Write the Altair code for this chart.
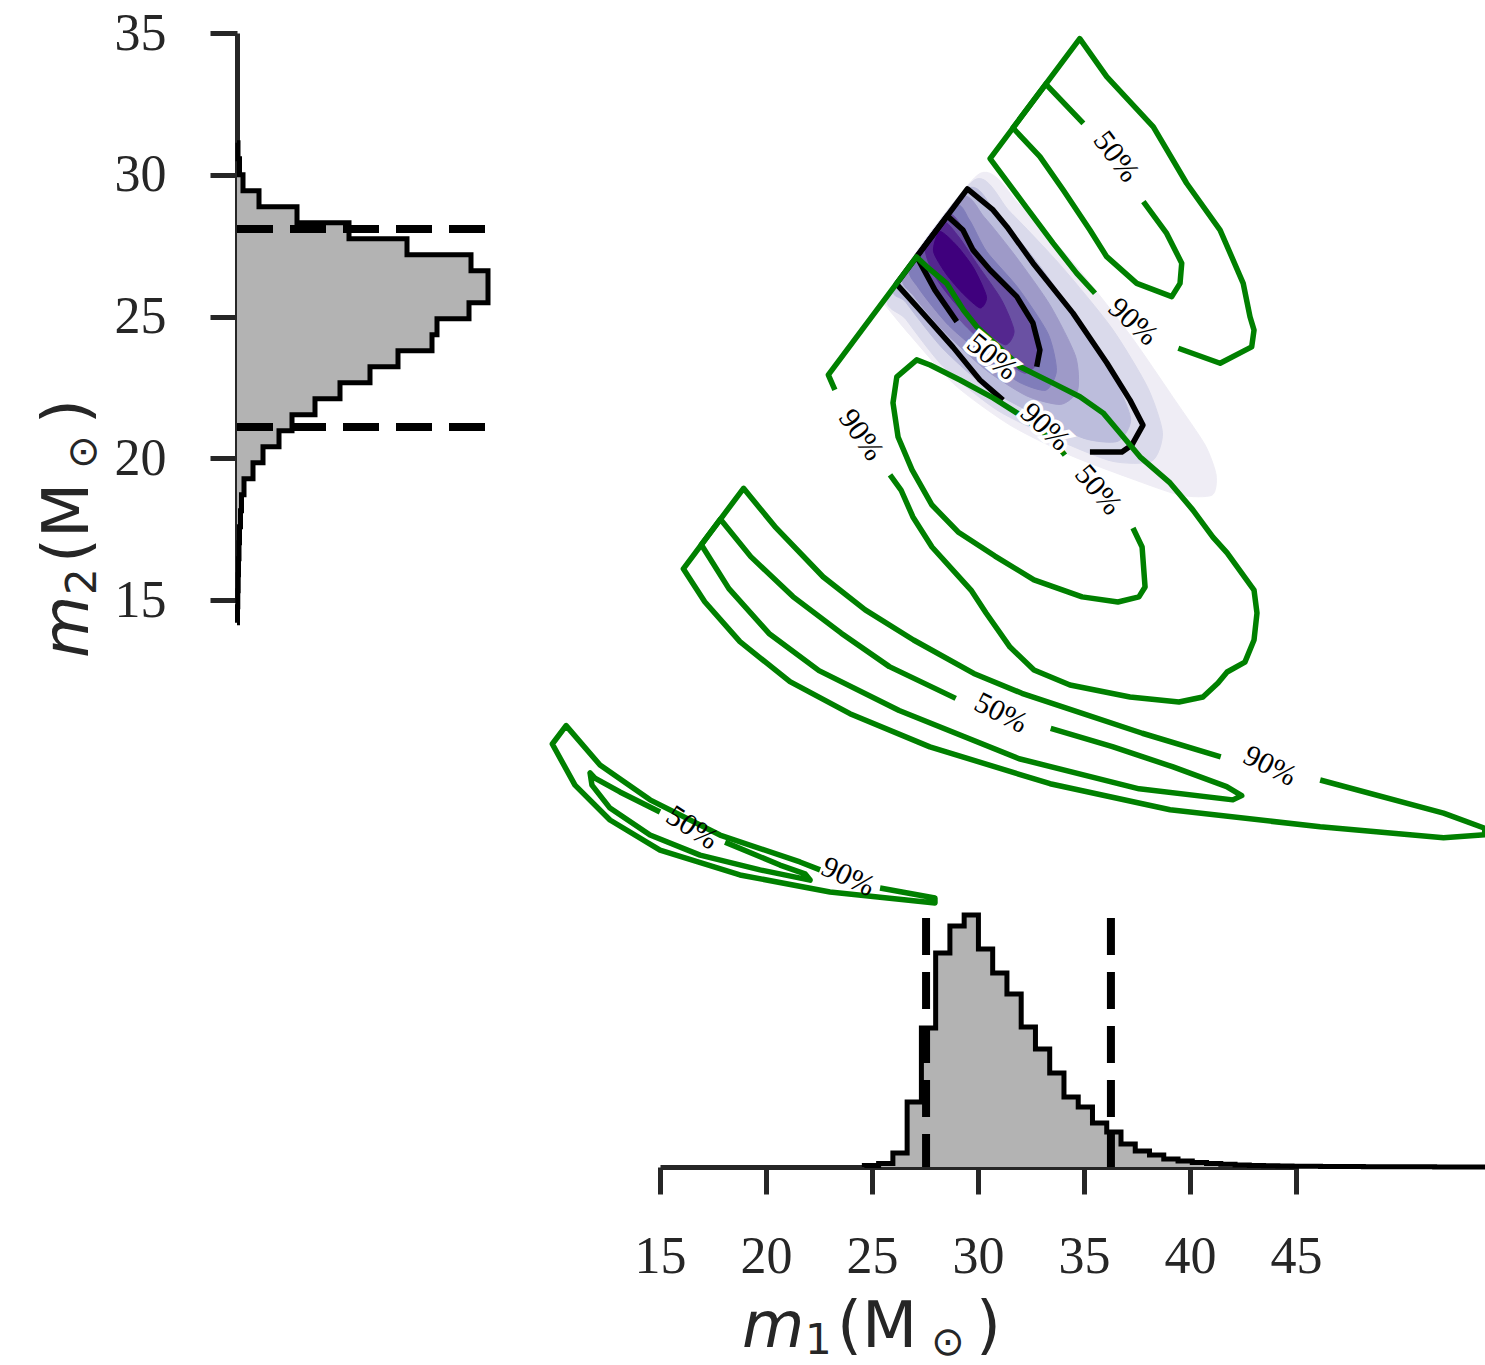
import altair as alt
import pandas as pd

# ---------------- histogram data ----------------
M1_BIN_START = 24.64
M1_BIN_WIDTH = 0.6725
M1_COUNTS = [1.5, 3.5, 14, 65, 139, 214, 241, 252, 218, 194,
             173, 140, 118, 94, 70, 60, 44, 35, 23, 16,
             12, 8, 6, 4.5, 3.5, 2.7, 2.0, 1.6, 1.3, 1.0,
             0.8, 0.7, 0.5, 0.4, 0.4, 0.3, 0.3, 0.2, 0.2, 0.2,
             0.1, 0.1, 0.1, 0.1]
M2_BIN_START = 14.197
M2_BIN_WIDTH = 0.5644
M2_COUNTS = [0.5, 0.8, 1.2, 1.5, 2, 2.5, 3.5, 4.5, 7, 16,
             26, 42, 55, 78, 103, 133, 161, 195, 200, 232,
             251, 251, 234, 170, 112, 60, 22, 6, 2.5, 1]
M1_CI = [27.55, 36.27]
M2_CI = [21.10, 28.09]
M1_TICKS = [15, 20, 25, 30, 35, 40, 45]
M2_TICKS = [15, 20, 25, 30, 35]

# ---------------- 2D density (nested levels, lightest first) ----------------
DENS_1 = [(30.0, 30.0), (31.98, 28.93), (34.58, 26.82), (37.17, 24.35), (39.29, 22.05), (40.71, 20.47),
          (41.23, 19.41), (41.04, 18.70), (39.53, 18.70), (37.17, 19.30), (34.34, 20.11), (31.51, 21.17),
          (28.92, 22.58), (26.79, 24.35), (25.61, 25.41), (25.5, 25.5)]
DENS_2 = [(29.8, 29.8), (31.5, 28.7), (33.9, 26.8), (36.3, 24.6), (38.0, 22.5), (38.7, 20.9), (38.2, 19.9),
          (36.3, 19.9), (33.6, 20.7), (30.9, 21.7), (28.4, 23.2), (26.6, 24.9), (25.8, 25.8)]
DENS_3 = [(29.5, 29.5), (30.9, 28.6), (32.8, 26.9), (34.7, 24.9), (36.3, 23.0), (37.2, 21.4), (36.6, 20.6),
          (35.0, 20.7), (32.8, 21.5), (30.4, 22.5), (28.3, 23.9), (26.6, 25.5), (26.1, 26.1)]
DENS_4 = [(29.2, 29.2), (30.3, 28.5), (31.8, 27.1), (33.4, 25.4), (34.6, 23.6), (34.7, 22.4), (33.9, 21.9),
          (32.3, 22.2), (30.4, 23.1), (28.5, 24.4), (27.0, 25.7), (26.5, 26.5)]
DENS_5 = [(28.9, 28.9), (29.6, 28.4), (30.4, 27.3), (31.9, 26.0), (33.3, 24.4), (33.7, 23.1), (33.2, 22.4),
          (31.9, 22.7), (30.3, 23.6), (28.6, 24.7), (27.2, 26.0), (26.8, 26.8)]
DENS_6 = [(28.6, 28.6), (29.3, 28.1), (30.2, 27.0), (31.6, 25.8), (32.7, 24.3), (32.8, 23.4), (32.2, 23.0),
          (31.0, 23.6), (29.5, 24.6), (28.0, 25.9), (27.2, 27.2)]
DENS_7 = [(28.35, 28.35), (29.1, 27.8), (30.0, 26.8), (31.1, 25.6), (31.7, 24.5), (31.3, 24.0), (30.3, 24.5),
          (29.0, 25.4), (27.9, 26.5), (27.5, 27.5)]
DENS_8 = [(28.2, 28.0), (29.0, 27.5), (29.8, 26.7), (30.4, 25.7), (30.1, 25.3), (29.3, 25.8), (28.5, 26.5),
          (27.9, 27.3)]
DENS_LEVELS = [DENS_1, DENS_2, DENS_3, DENS_4, DENS_5, DENS_6, DENS_7, DENS_8]
DENS_COLORS = ['#efedf5', '#dadaeb', '#bcbddc', '#9e9ac8', '#807dba', '#6a51a3', '#54278f', '#3f007d']

# ---------------- contour lines (m1, m2) ----------------
BLACK_90 = [(31.18, 22.05), (30.09, 22.76), (28.82, 23.92), (27.26, 25.23), (26.15, 26.15), (29.5, 29.5),
            (30.71, 28.76), (31.37, 28.16), (32.59, 26.89), (34.48, 25.12), (36.08, 23.36), (37.17, 22.05),
            (37.78, 21.17), (37.26, 20.47), (36.79, 20.22), (35.28, 20.22)]
BLACK_50 = [(29.0, 24.82), (27.97, 25.93), (27.11, 27.11), (28.55, 28.55), (29.29, 28.05), (29.76, 27.35),
            (30.57, 26.64), (31.83, 25.70), (32.59, 24.77), (32.92, 23.82), (32.77, 23.23)]

GREEN_A90 = [(35.52, 25.82), (34.66, 26.52), (33.55, 27.58), (32.14, 28.99), (30.57, 30.57), (34.8, 34.8),
             (36.07, 33.46), (38.27, 31.69), (39.84, 29.70), (41.42, 28.05), (42.51, 26.17), (42.83, 24.99),
             (43.02, 24.52), (42.91, 23.93), (41.42, 23.35), (39.45, 23.88)]
GREEN_A50 = [(37.80, 29.05), (38.90, 27.93), (39.61, 26.88), (39.53, 26.17), (39.14, 25.70), (37.49, 26.17),
             (36.07, 27.11), (35.28, 28.05), (34.02, 29.46), (32.92, 30.64), (31.65, 31.65), (33.2, 33.2),
             (34.97, 31.81)]
GREEN_B90 = [(23.25, 22.41), (22.94, 22.94), (27.1, 27.1), (27.58, 26.76), (28.52, 26.17), (29.31, 25.23),
             (29.94, 24.64), (31.98, 23.23), (33.54, 22.65), (34.81, 22.17), (35.90, 21.60), (36.70, 20.89),
             (37.64, 20.05), (39.06, 19.13), (40.14, 18.17), (41.08, 17.22), (41.75, 16.66), (43.02, 15.35),
             (43.16, 14.54), (43.02, 13.59), (42.59, 12.81), (41.75, 12.46), (41.32, 12.07), (40.61, 11.58),
             (39.48, 11.40), (37.17, 11.58), (34.34, 12.0), (32.64, 12.53), (31.51, 13.34), (30.38, 14.54),
             (29.67, 15.35), (27.83, 16.87), (26.93, 17.93), (26.37, 18.88), (25.85, 19.41)]
GREEN_B50 = [(34.10, 20.11), (33.54, 20.64), (31.98, 21.53), (30.71, 22.13), (29.15, 22.76), (27.74, 23.29),
             (27.11, 23.47), (26.17, 22.87), (25.99, 21.95), (26.23, 20.75), (26.89, 19.59), (27.83, 18.35),
             (29.06, 17.40), (30.80, 16.55), (32.64, 15.71), (34.91, 15.11), (36.60, 14.93), (37.59, 15.11),
             (37.88, 15.46), (37.74, 16.87), (37.31, 17.54)]
GREEN_C90 = [(41.45, 9.47), (37.75, 10.30), (34.92, 11.00), (32.07, 11.71), (29.80, 12.41), (26.96, 13.59),
             (24.68, 14.65), (22.69, 15.82), (20.42, 17.59), (18.94, 18.94), (16.1, 16.1), (17.11, 14.94),
             (18.77, 13.53), (21.13, 12.12), (23.96, 10.99), (27.73, 9.82), (33.40, 8.52), (39.06, 7.60),
             (46.14, 7.00), (51.96, 6.61), (53.90, 6.72), (53.90, 6.95), (51.96, 7.48), (46.14, 8.65)]
GREEN_C50 = [(28.95, 11.53), (25.82, 12.65), (23.55, 13.83), (21.27, 15.12), (19.28, 16.53), (17.85, 17.85),
             (16.95, 16.95), (18.25, 15.40), (20.14, 13.82), (22.50, 12.51), (26.28, 11.10), (31.94, 9.40),
             (37.60, 8.34), (42.02, 7.95), (42.44, 8.10), (41.73, 8.42), (39.17, 9.12), (36.34, 9.83),
             (33.43, 10.47)]
GREEN_D90 = [(22.55, 5.48), (21.60, 5.76), (17.83, 6.71), (14.53, 7.95), (12.17, 9.18), (10.57, 10.57),
             (9.92, 9.92), (10.99, 8.47), (12.64, 7.24), (15.0, 6.18), (18.77, 5.30), (23.02, 4.70),
             (27.97, 4.31), (27.97, 4.49), (25.38, 4.84)]
GREEN_D50 = [(15.0, 7.52), (13.11, 8.23), (11.93, 8.72), (11.70, 8.90), (11.79, 8.47), (12.64, 7.66),
             (14.53, 6.71), (16.89, 6.0), (19.72, 5.48), (22.08, 5.12), (21.84, 5.34), (20.66, 5.65),
             (18.07, 6.46)]

# ---------------- contour labels ----------------
BLACK_LABELS = [("50%", 30.66, 23.57, 39), ("90%", 33.16, 21.10, 43)]
GREEN_LABELS = [("50%", 36.51, 30.63, 53), ("90%", 37.31, 24.81, 42), ("90%", 24.48, 20.82, 55),
                ("50%", 35.66, 18.88, 50), ("50%", 31.08, 11.01, 27), ("90%", 43.77, 9.14, 27),
                ("50%", 16.51, 6.96, 33), ("90%", 23.87, 5.23, 25)]

# ---------------- helpers ----------------
def lines_df(named):
    rows = []
    for name, pts in named.items():
        for i, (a, b) in enumerate(pts):
            rows.append({"seg": name, "i": i, "m1": a, "m2": b})
    return pd.DataFrame(rows)


def hist_outline(start, width, counts):
    edges = [start + width * k for k in range(len(counts) + 1)]
    pos, cnt = [edges[0]], [0.0]
    for k, c in enumerate(counts):
        pos += [edges[k], edges[k + 1]]
        cnt += [c, c]
    pos.append(edges[-1])
    cnt.append(0.0)
    return pd.DataFrame({"pos": pos, "cnt": cnt, "i": list(range(len(pos)))})


def labels_df(items):
    return pd.DataFrame([{"t": t, "m1": a, "m2": b, "ang": g} for t, a, b, g in items])


AX = "#262626"
SERIF = "Liberation Serif"

X_M1 = alt.Scale(domain=[15, 45], range=[423, 1059], zero=False, nice=False)
Y_M2 = alt.Scale(domain=[15, 35], range=[600, 33], zero=False, nice=False)

def xm1():
    return alt.X("m1:Q", scale=X_M1, axis=None)

def ym2():
    return alt.Y("m2:Q", scale=Y_M2, axis=None)

# ---------------- 2D panel ----------------
dens_layers = []
for lvl, (pts, col) in enumerate(zip(DENS_LEVELS, DENS_COLORS)):
    d = lines_df({f"L{lvl}": pts})
    dens_layers.append(
        alt.Chart(d).mark_line(fill=col, stroke=col, strokeWidth=1, interpolate="cardinal-closed", tension=0.3)
        .encode(x=xm1(), y=ym2(), order="i:Q")
    )

black_df = lines_df({"b90": BLACK_90, "b50": BLACK_50})
green_df = lines_df({"a90": GREEN_A90, "a50": GREEN_A50, "b90": GREEN_B90, "b50": GREEN_B50,
                     "c90": GREEN_C90, "c50": GREEN_C50, "d90": GREEN_D90, "d50": GREEN_D50})

black_lines = alt.Chart(black_df).mark_line(color="black", strokeWidth=5.5, strokeJoin="round").encode(
    x=xm1(), y=ym2(), detail="seg:N", order="i:Q")
green_lines = alt.Chart(green_df).mark_line(color="green", strokeWidth=5.5, strokeJoin="round").encode(
    x=xm1(), y=ym2(), detail="seg:N", order="i:Q")

bl = labels_df(BLACK_LABELS)
gl = labels_df(GREEN_LABELS)
lab_enc = dict(x=xm1(), y=ym2(), text="t:N", angle=alt.Angle("ang:Q", scale=None))
black_halo = alt.Chart(bl).mark_text(font=SERIF, fontSize=30, stroke="white", strokeWidth=7,
                                     fill="white", baseline="middle", align="center").encode(**lab_enc)
black_text = alt.Chart(bl).mark_text(font=SERIF, fontSize=30, fill="black",
                                     baseline="middle", align="center").encode(**lab_enc)
green_text = alt.Chart(gl).mark_text(font=SERIF, fontSize=30, fill="black",
                                     baseline="middle", align="center").encode(**lab_enc)

panel2d = alt.layer(*dens_layers, black_lines, green_lines, black_halo, black_text, green_text)

# ---------------- left (m2) histogram ----------------
m2_df = hist_outline(M2_BIN_START, M2_BIN_WIDTH, M2_COUNTS)
CNT2 = alt.Scale(domain=[0, 251], range=[0, 251], zero=False, nice=False)
left_axis = alt.Axis(orient="left", values=M2_TICKS, format="d", title=None, grid=False,
                     domainColor=AX, domainWidth=5, tickColor=AX, tickWidth=5, tickSize=27,
                     labelFont=SERIF, labelFontSize=52, labelColor=AX, labelPadding=44,
                     labelFlush=False, labelOverlap=False)
left_hist = alt.Chart(m2_df).mark_line(fill="#b3b3b3", stroke="black", strokeWidth=5,
                                       strokeJoin="miter").encode(
    x=alt.X("cnt:Q", scale=CNT2, axis=None),
    y=alt.Y("pos:Q", scale=Y_M2, axis=left_axis),
    order="i:Q")
m2_ci = pd.DataFrame({"m2": M2_CI, "c0": [0, 0], "c1": [248, 248]})
left_ci = alt.Chart(m2_ci).mark_rule(color="black", strokeWidth=8, strokeDash=[36, 17]).encode(
    y=alt.Y("m2:Q", scale=Y_M2, axis=left_axis),
    x=alt.X("c0:Q", scale=CNT2, axis=None), x2="c1:Q")
left_panel = alt.layer(left_hist, left_ci)

# ---------------- bottom (m1) histogram ----------------
m1_df = hist_outline(M1_BIN_START, M1_BIN_WIDTH, M1_COUNTS)
CNT1 = alt.Scale(domain=[0, 252], range=[1167, 915], zero=False, nice=False)
bottom_axis = alt.Axis(orient="bottom", values=M1_TICKS, format="d", title=None, grid=False,
                       domainColor=AX, domainWidth=5, tickColor=AX, tickWidth=5, tickSize=27,
                       labelFont=SERIF, labelFontSize=52, labelColor=AX, labelPadding=37,
                       labelFlush=False, labelOverlap=False)
bottom_hist = alt.Chart(m1_df).mark_line(fill="#b3b3b3", stroke="black", strokeWidth=5,
                                         strokeJoin="miter").encode(
    x=alt.X("pos:Q", scale=X_M1, axis=bottom_axis),
    y=alt.Y("cnt:Q", scale=CNT1, axis=None),
    order="i:Q")
m1_ci = pd.DataFrame({"m1": M1_CI, "c0": [249, 249], "c1": [0, 0]})
bottom_ci = alt.Chart(m1_ci).mark_rule(color="black", strokeWidth=8, strokeDash=[37, 17]).encode(
    x=alt.X("m1:Q", scale=X_M1, axis=bottom_axis),
    y=alt.Y("c0:Q", scale=CNT1, axis=None), y2="c1:Q")
bottom_panel = alt.layer(bottom_hist, bottom_ci)

# ---------------- axis titles (mathtext-like pieces) ----------------
TITLE_ITALIC = pd.DataFrame({"t": ["m", "m"], "px": [505, -149], "py": [1347, 658], "ang": [0, 270]})
TITLE_REST = pd.DataFrame({
    "t": ["1", "(M", "\u2299", ")", "2", "(M", "\u2299", ")"],
    "px": [568, 600, 694, 739, -141, -149, -141, -149],
    "py": [1354, 1347, 1355, 1347, 595, 563, 469, 424],
    "fs": [42, 64, 40, 64, 42, 64, 40, 64],
    "ang": [0, 0, 0, 0, 270, 270, 270, 270]})
t_enc = dict(x=alt.X("px:Q", scale=None, axis=None), y=alt.Y("py:Q", scale=None, axis=None),
             text="t:N", angle=alt.Angle("ang:Q", scale=None))
title_it = alt.Chart(TITLE_ITALIC).mark_text(font="DejaVu Sans", fontStyle="italic", fontSize=64,
                                             align="left", baseline="alphabetic", color=AX).encode(**t_enc)
title_rest = alt.Chart(TITLE_REST).mark_text(font="DejaVu Sans", align="left", baseline="alphabetic",
                                             color=AX).encode(size=alt.Size("fs:Q", scale=None, legend=None), **t_enc)
titles = alt.layer(title_it, title_rest)

chart = alt.layer(panel2d, left_panel, bottom_panel, titles).resolve_scale(
    x="independent", y="independent").properties(
    width=1248, height=1167,
    padding={"left": 237, "top": 0, "right": 0, "bottom": 198},
    autosize=alt.AutoSizeParams(type="none"),
    background="white",
).configure_view(strokeWidth=0)

chart.save("out.html", embed_options={"renderer": "svg", "actions": False})
